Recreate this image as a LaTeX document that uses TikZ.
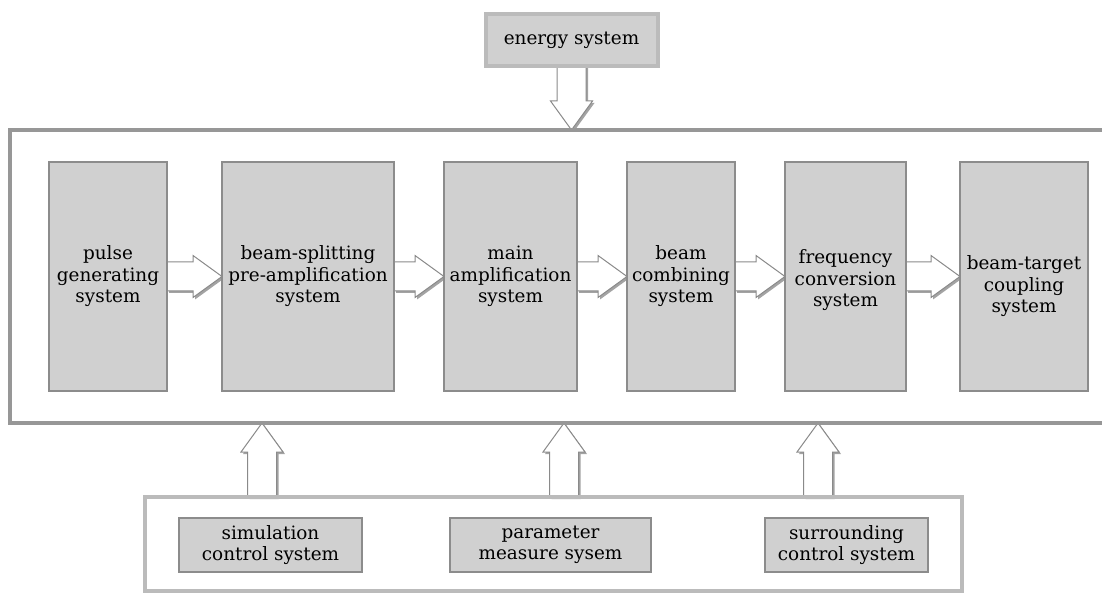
\documentclass[tikz,border=0pt]{standalone}
\usepackage{fontspec}
\setmainfont{DejaVu Serif}
\usetikzlibrary{calc,shadows,backgrounds}
\definecolor{boxfill}{HTML}{D0D0D0}
\definecolor{boxline}{HTML}{8C8C8C}
\definecolor{frameline}{HTML}{979797}
\definecolor{lightframe}{HTML}{BBBBBB}
\definecolor{arrline}{HTML}{8A8A8A}
\tikzset{
  txt/.style={font=\fontsize{18.4}{21.5}\selectfont, align=center, inner sep=0pt, outer sep=0pt},
  sysbox/.style={txt, draw=boxline, line width=1.3pt, fill=boxfill, anchor=north west},
  smallbox/.style={txt, draw=boxline, line width=1.3pt, fill=boxfill, anchor=north west, minimum height=54pt},
  bigframe/.style={draw=frameline, line width=3.8pt, inner sep=0pt, outer sep=0pt},
  lightbox/.style={draw=lightframe, line width=4pt, inner sep=0pt, outer sep=0pt},
  blockarr/.style={draw=arrline, line width=1pt, fill=white,
    drop shadow={shadow xshift=2pt, shadow yshift=-2pt, fill=black!60, opacity=0.6},
    to path={
      (\tikztostart) coordinate (ba-s)
      (\tikztotarget) coordinate (ba-t)
      ($(ba-t)!29pt!(ba-s)$) coordinate (ba-h)
      ($(ba-s)!14.5pt!90:(ba-t)$) -- ($(ba-h)!14.5pt!90:(ba-t)$) -- ($(ba-h)!21pt!90:(ba-t)$)
      -- (ba-t) -- ($(ba-h)!21pt!-90:(ba-t)$) -- ($(ba-h)!14.5pt!-90:(ba-t)$)
      -- ($(ba-s)!14.5pt!-90:(ba-t)$) -- cycle}}
}
\begin{document}
\begin{tikzpicture}[x=1pt,y=-1pt]
\useasboundingbox (0,0) rectangle (1102,593);
% frames
\node[bigframe, minimum width=1100pt, minimum height=293pt] (main) at (560,276.5) {};
\node[lightbox, minimum width=817pt, minimum height=94pt] (bottom) at (553.5,544) {};
\node[txt, lightbox, fill=boxfill, minimum width=172pt, minimum height=52pt] (energy) at (571.5,40) {energy system};
% main chain
\node[sysbox, minimum width=118pt, minimum height=229pt] (pulse) at (49,162) {pulse\\generating\\system};
\node[sysbox, minimum width=172pt, minimum height=229pt] (split) at (222,162) {beam-splitting\\pre-amplification\\system};
\node[sysbox, minimum width=133pt, minimum height=229pt] (mainamp) at (444,162) {main\\amplification\\system};
\node[sysbox, minimum width=108pt, minimum height=229pt] (combine) at (627,162) {beam\\combining\\system};
\node[sysbox, minimum width=121pt, minimum height=229pt,
  label={[txt, yshift=-4pt]center:frequency\\conversion\\system}] (freq) at (785,162) {};
\node[sysbox, minimum width=128pt, minimum height=229pt,
  label={[txt, yshift=-10pt]center:beam-target\\coupling\\system}] (target) at (960,162) {};
% bottom boxes
\node[smallbox, minimum width=183pt] (sim) at (179,518) {simulation\\control system};
\node[smallbox, minimum width=201pt] (param) at (450,518) {parameter\\measure sysem};
\node[smallbox, minimum width=163pt] (surr) at (765,518) {surrounding\\control system};
% coordinates for vertical arrows
\coordinate (u1) at (262,0);
\coordinate (u2) at (564,0);
\coordinate (u3) at (818,0);
\begin{pgfonlayer}{background}
\draw[blockarr] (energy.south) to (energy.south |- main.north);
\draw[blockarr] (pulse.east) to (split.west);
\draw[blockarr] (split.east) to (mainamp.west);
\draw[blockarr] (mainamp.east) to (combine.west);
\draw[blockarr] (combine.east) to (freq.west);
\draw[blockarr] (freq.east) to (target.west);
\draw[blockarr] (u1 |- bottom.north) to (u1 |- main.south);
\draw[blockarr] (u2 |- bottom.north) to (u2 |- main.south);
\draw[blockarr] (u3 |- bottom.north) to (u3 |- main.south);
\end{pgfonlayer}
\end{tikzpicture}
\end{document}
